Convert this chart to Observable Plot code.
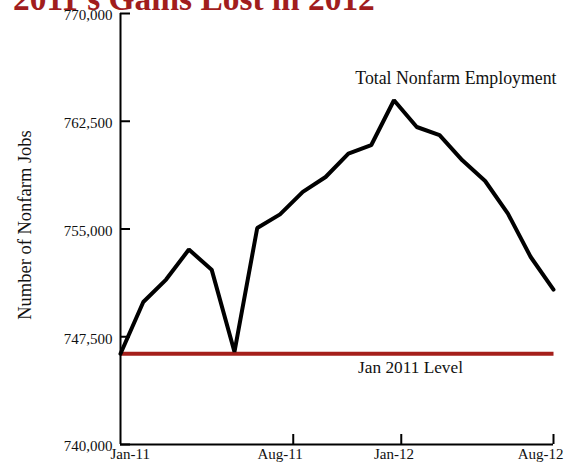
<!DOCTYPE html>
<html><head><meta charset="utf-8">
<script src="https://cdn.jsdelivr.net/npm/d3@7"></script>
<script src="https://cdn.jsdelivr.net/npm/@observablehq/plot@0.6"></script>
<style>
html,body{margin:0;padding:0;background:#fff;overflow:hidden;}
#wrap{position:relative;width:566px;height:468px;overflow:hidden;}
#chart{position:absolute;left:0;top:0;}
#title{position:absolute;left:13px;top:-18px;font:bold 33.4px "Liberation Serif",serif;color:#a11d1d;white-space:nowrap;line-height:1;z-index:2;}
</style></head><body>
<div id="wrap"><div id="title">2011's Gains Lost in 2012</div><div id="chart"></div></div>
<script>
const months = ["Jan-11","Feb-11","Mar-11","Apr-11","May-11","Jun-11","Jul-11","Aug-11","Sep-11","Oct-11","Nov-11","Dec-11","Jan-12","Feb-12","Mar-12","Apr-12","May-12","Jun-12","Jul-12","Aug-12"];
const jobs = [746320,749920,751480,753570,752170,746450,755070,756020,757580,758620,760250,760830,763960,762100,761530,759780,758340,756070,753050,750780];
const jan2011Level = 746320;
const yTicks = [740000,747500,755000,762500,770000];
const xTickPos = [7.58,12.32,19];
const xLabels = ["Jan-11","Aug-11","Jan-12","Aug-12"];
const xLabelPos = [0,7,12,19];
const seriesLabel = "Total Nonfarm Employment";
const baselineLabel = "Jan 2011 Level";
const yLabel = "Number of Nonfarm Jobs";

const data = months.map((m,i)=>({i, m, v: jobs[i]}));
const base = [{i: 0, v: jan2011Level}, {i: months.length - 1, v: jan2011Level}];
const labels = xLabels.map((t,k)=>({t, x: xLabelPos[k]}));
const red = "#a51f1b";
const font = "Liberation Serif";

const chart = Plot.plot({
  width: 566, height: 468,
  marginLeft: 120, marginRight: 13, marginTop: 13, marginBottom: 24,
  style: {fontFamily: font, fontSize: "15px", color: "#111", background: "transparent"},
  x: {type: "linear", domain: [0, 19], axis: null},
  y: {domain: [740000, 770000], axis: null},
  marks: [
    Plot.line(base, {x: "i", y: "v", stroke: red, strokeWidth: 4, strokeLinecap: "butt"}),
    Plot.line(data, {x: "i", y: "v", stroke: "#000", strokeWidth: 4, strokeLinejoin: "miter"}),
    Plot.ruleX([0], {stroke: "#000", strokeWidth: 2}),
    Plot.ruleY([740000], {stroke: "#000", strokeWidth: 2}),
    Plot.tickY(yTicks, {y: d => d, insetRight: 423, stroke: "#000", strokeWidth: 2}),
    Plot.tickX(xTickPos, {x: d => d, insetTop: 421, stroke: "#000", strokeWidth: 2}),
    Plot.text(yTicks, {y: d => d, text: d => d3.format(",")(d), frameAnchor: "left", textAnchor: "end", dx: -8, dy: 2, fontSize: 15, fill: "#111"}),
    Plot.text(labels.slice(0,1), {x: "x", text: "t", frameAnchor: "bottom", textAnchor: "start", dx: -10, dy: 14, fontSize: 15, fill: "#111"}),
    Plot.text(labels.slice(1,3), {x: "x", text: "t", frameAnchor: "bottom", dy: 14, fontSize: 15, fill: "#111"}),
    Plot.text(labels.slice(3), {x: "x", text: "t", frameAnchor: "bottom", textAnchor: "end", dx: 10, dy: 14, fontSize: 15, fill: "#111"}),
    Plot.text([yLabel], {text: d => d, frameAnchor: "left", textAnchor: "middle", rotate: -90, dx: -95, dy: -4, fontSize: 18.5, fill: "#111"}),
    Plot.text([seriesLabel], {text: d => d, frameAnchor: "top-right", textAnchor: "end", dx: 3, dy: 58, fontSize: 17.8, fill: "#111"}),
    Plot.text([baselineLabel], {text: d => d, frameAnchor: "bottom", dx: 73.5, dy: -72, fontSize: 17.3, fill: "#111"})
  ]
});
document.getElementById("chart").appendChild(chart);
</script>
</body></html>
